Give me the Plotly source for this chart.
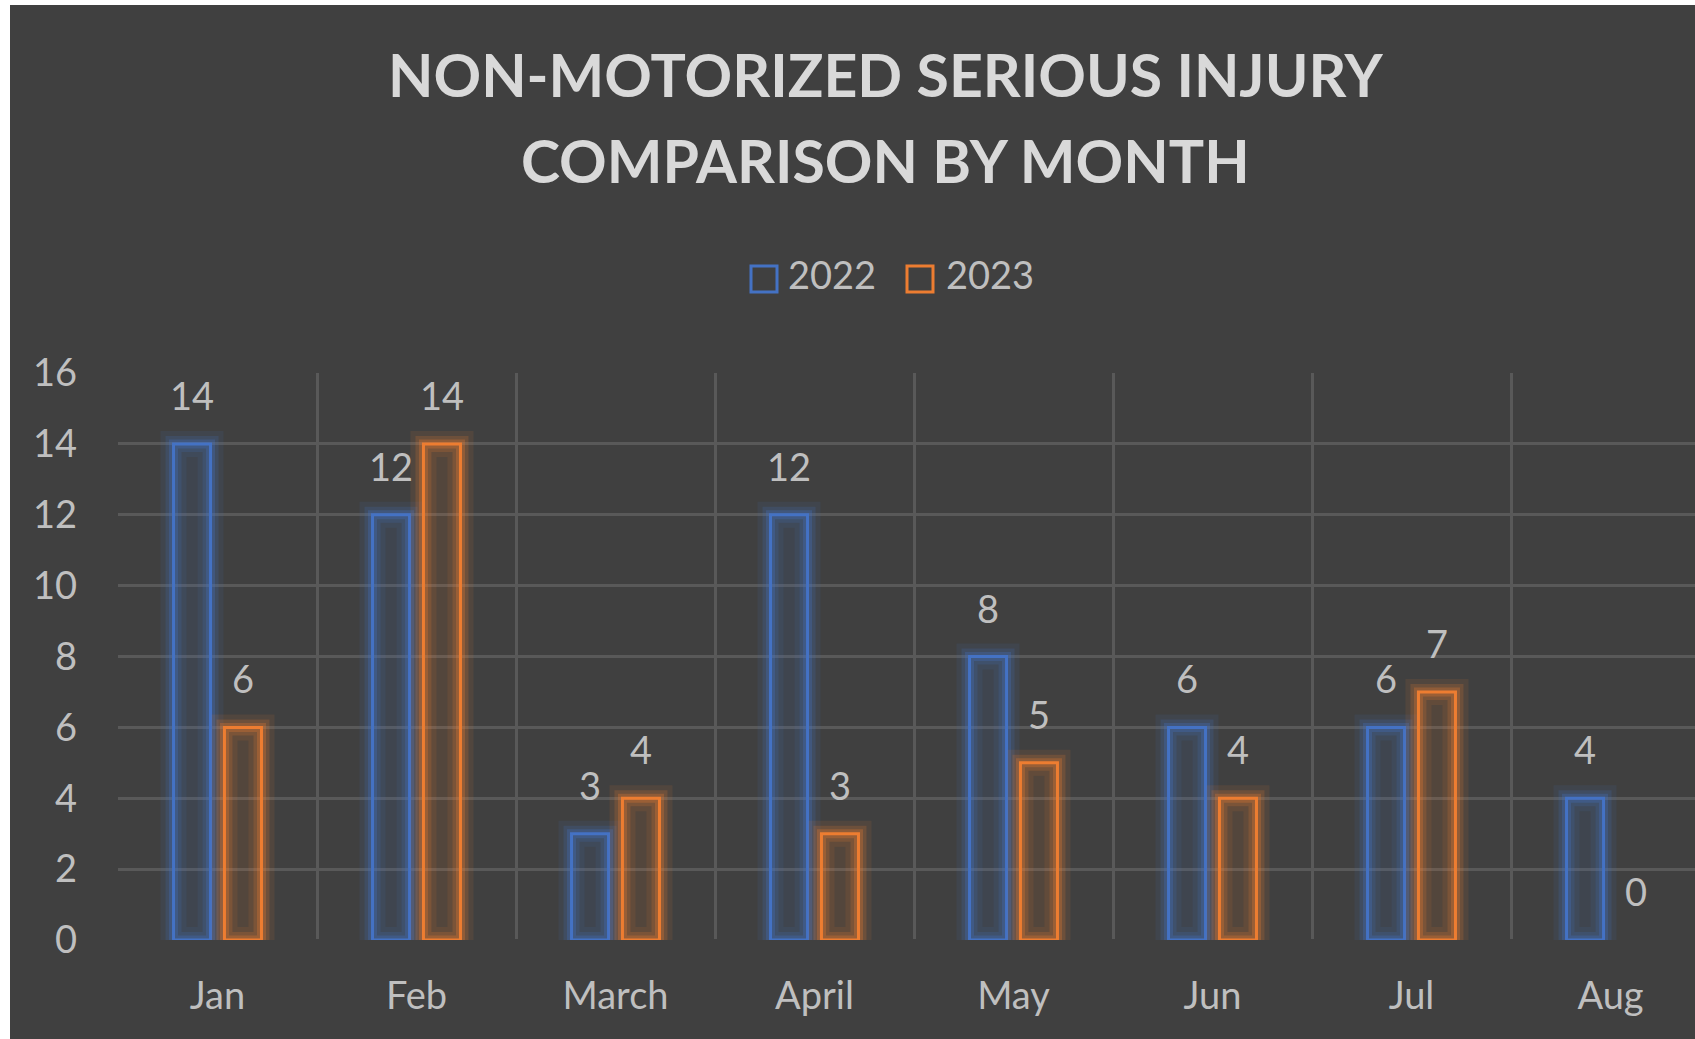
import plotly.graph_objects as go

# ---- data ----
months = ["Jan", "Feb", "March", "April", "May", "Jun", "Jul", "Aug"]
series_names = ["2022", "2023"]
values_2022 = [14, 12, 3, 12, 8, 6, 6, 4]
values_2023 = [6, 14, 4, 3, 5, 4, 7, 0]
y_ticks = [0, 2, 4, 6, 8, 10, 12, 14, 16]
title_lines = ["NON-MOTORIZED SERIOUS INJURY", "COMPARISON BY MONTH"]

# ---- layout constants ----
W, H = 1695, 1039
L, R, T, B = 118, 0, 373, 99
PW, PH = W - L - R, H - T - B
CAT_PX = 199.0
BG = "#404040"
GRID = "#595959"
TXT = "#BFBFBF"
TITLE_C = "#D9D9D9"
BLUE = "#4472C4"
ORANGE = "#ED7D31"
FONT = "Lato"

BAR_W = 0.186
CENTER_OFF = 0.128


def px_x(p):
    return (p - L) / PW


def px_y(p):
    return (T + PH - p) / PH


def rgba(hexc, a):
    h = hexc.lstrip("#")
    r, g, b = int(h[0:2], 16), int(h[2:4], 16), int(h[4:6], 16)
    return f"rgba({r},{g},{b},{a})"


fig = go.Figure()

series = [(series_names[0], values_2022, BLUE, -CENTER_OFF),
          (series_names[1], values_2023, ORANGE, CENTER_OFF)]

for name, vals, col, off in series:
    bar_vals = [v if v != 0 else None for v in vals]
    # soft glow layers
    for lw, la, fa in [(26, 0.10, 0.05), (16, 0.18, 0.07), (9, 0.28, 0.0)]:
        fig.add_trace(go.Bar(
            x=months, y=bar_vals, width=BAR_W, offset=off - BAR_W / 2,
            marker=dict(color=rgba(col, fa), line=dict(color=rgba(col, la), width=lw)),
            hoverinfo="skip", showlegend=False))
    fig.add_trace(go.Bar(
        x=months, y=bar_vals, name=name, width=BAR_W, offset=off - BAR_W / 2,
        marker=dict(color="rgba(0,0,0,0)", line=dict(color=col, width=3)),
        showlegend=False))

annotations = []
for name, vals, col, off in series:
    for i, v in enumerate(vals):
        annotations.append(dict(
            x=i + off, y=v, xref="x", yref="y", text=str(v), showarrow=False,
            yanchor="bottom", xanchor="center", yshift=24,
            font=dict(family=FONT, size=38, color=TXT)))

# title lines (pixel centres converted to paper coordinates)
for line, cy in zip(title_lines, [75, 160]):
    annotations.append(dict(x=px_x(885), y=px_y(cy), xref="paper", yref="paper",
                            text=f"<b>{line}</b>", showarrow=False,
                            xanchor="center", yanchor="middle",
                            font=dict(family=FONT, size=59, color=TITLE_C)))

# background panel and custom legend
shapes = [dict(type="rect", xref="paper", yref="paper",
               x0=px_x(10), x1=px_x(W + 5), y0=px_y(5), y1=px_y(H + 5),
               fillcolor=BG, line=dict(width=0), layer="below")]
legend_items = [(series_names[0], BLUE, 751, 786), (series_names[1], ORANGE, 907, 944)]
for name, col, sx, tx in legend_items:
    shapes.append(dict(type="rect", xref="paper", yref="paper",
                       x0=px_x(sx), x1=px_x(sx + 26), y0=px_y(292), y1=px_y(266),
                       line=dict(color=col, width=3), fillcolor="rgba(0,0,0,0)"))
    annotations.append(dict(x=px_x(tx), y=px_y(274), xref="paper", yref="paper",
                            text=name, showarrow=False, xanchor="left", yanchor="middle",
                            font=dict(family=FONT, size=38, color=TXT)))

fig.update_layout(
    width=W, height=H,
    margin=dict(l=L, r=R, t=T, b=B, pad=0),
    paper_bgcolor="white", plot_bgcolor=BG,
    barmode="overlay",
    showlegend=False,
    xaxis=dict(type="category", categoryorder="array", categoryarray=months,
               range=[-0.5, -0.5 + PW / CAT_PX], tickson="boundaries",
               showgrid=True, gridcolor=GRID, gridwidth=3, ticks="",
               showline=False, zeroline=False, ticklabelstandoff=30,
               tickfont=dict(family=FONT, size=38, color=TXT)),
    yaxis=dict(range=[0, 16], tickvals=y_ticks, ticktext=[str(t) for t in y_ticks],
               showgrid=True, gridcolor=GRID, gridwidth=3, ticks="",
               zeroline=True, zerolinecolor=BG, zerolinewidth=3,
               showline=False, ticklabelstandoff=40,
               tickfont=dict(family=FONT, size=38, color=TXT)),
    shapes=shapes,
    annotations=annotations,
    font=dict(family=FONT),
)

fig.write_html("out.html", config={"displayModeBar": False},
               post_script="document.body.style.margin='0';document.body.style.overflow='hidden';")
